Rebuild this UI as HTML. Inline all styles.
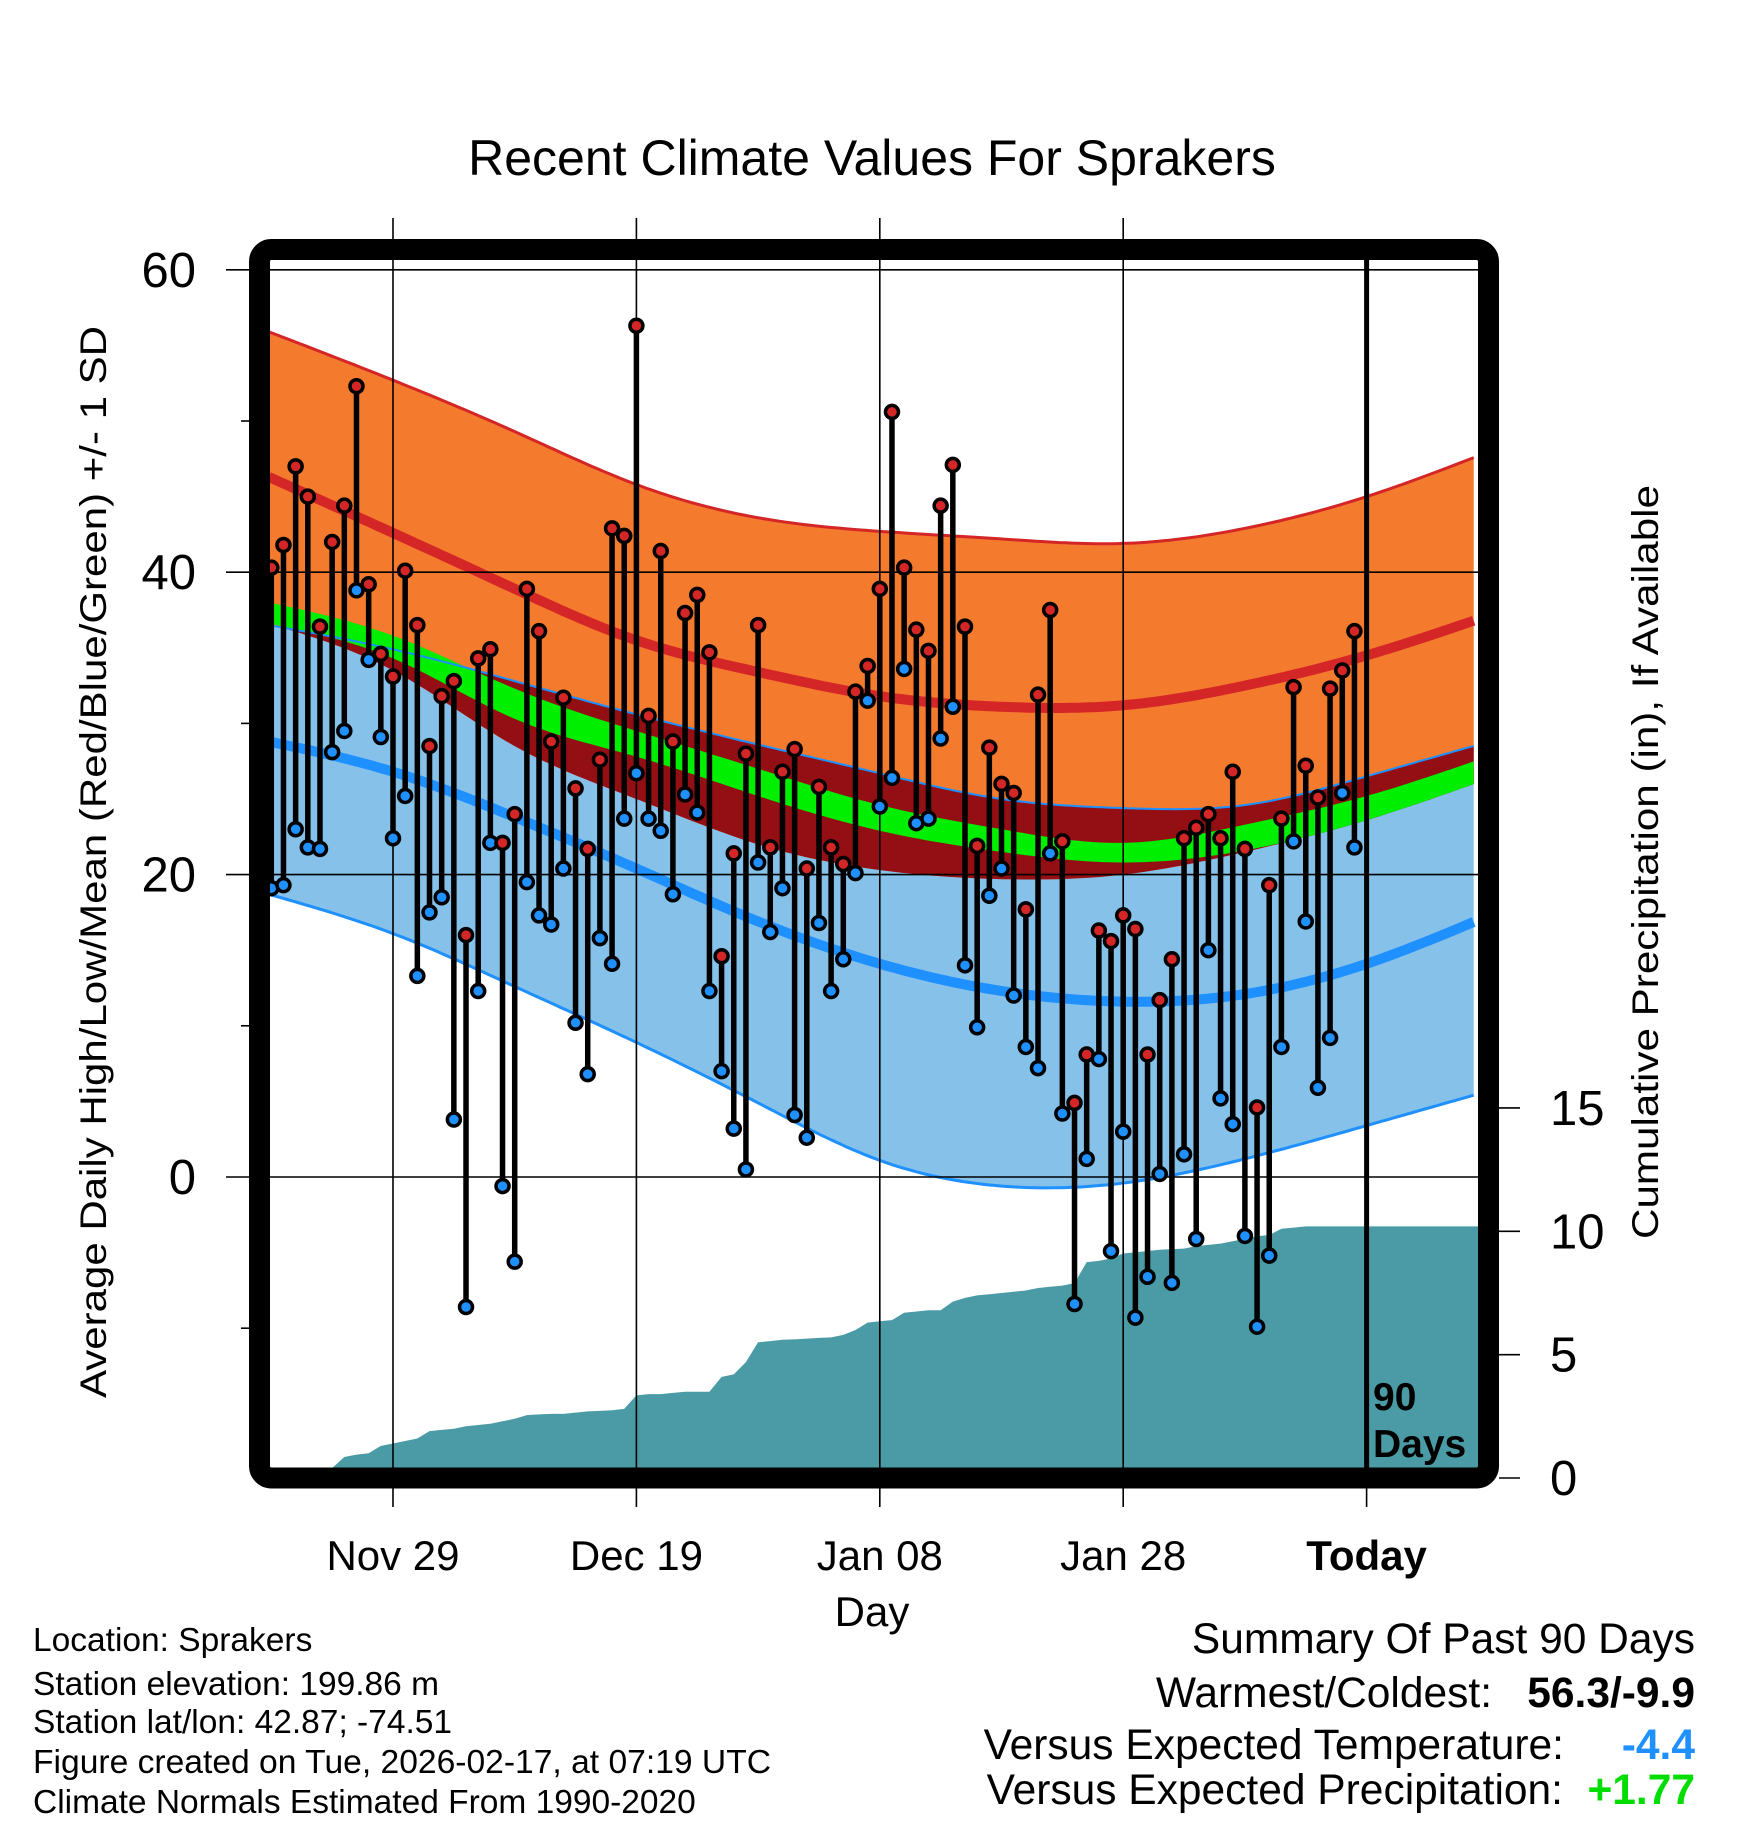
<!DOCTYPE html>
<html><head><meta charset="utf-8"><style>
html,body{margin:0;padding:0;background:#fff;}
svg{display:block;font-family:"Liberation Sans",sans-serif;}
</style></head><body>
<svg id="chart" width="1748" height="1828" viewBox="0 0 1748 1828" xmlns="http://www.w3.org/2000/svg">
<defs><clipPath id="plotclip"><rect x="270" y="260" width="1208" height="1208"/></clipPath></defs>
<text x="872" y="175" font-size="50" text-anchor="middle">Recent Climate Values For Sprakers</text>
<g id="bg" clip-path="url(#plotclip)"></g>
<g id="grid"></g>
<g id="marks" clip-path="url(#plotclip)"></g>
<rect x="259.5" y="249.5" width="1229" height="1228.5" rx="12" fill="none" stroke="#000" stroke-width="21"/>
<g id="axes"></g>
<text transform="translate(106,862) rotate(-90)" font-size="37" text-anchor="middle" textLength="1072" lengthAdjust="spacingAndGlyphs">Average Daily High/Low/Mean (Red/Blue/Green) +/- 1 SD</text>
<text transform="translate(1658,862) rotate(-90)" font-size="37" text-anchor="middle" textLength="754" lengthAdjust="spacingAndGlyphs">Cumulative Precipitation (in), If Available</text>
<text x="872" y="1626" font-size="42" text-anchor="middle">Day</text>
<text x="1373" y="1410" font-size="39" font-weight="bold">90</text>
<text x="1373" y="1457" font-size="39" font-weight="bold">Days</text>
<g font-size="33.5">
<text x="33" y="1651">Location: Sprakers</text>
<text x="33" y="1695">Station elevation: 199.86 m</text>
<text x="33" y="1733">Station lat/lon: 42.87; -74.51</text>
<text x="33" y="1773" textLength="738" lengthAdjust="spacingAndGlyphs">Figure created on Tue, 2026-02-17, at 07:19 UTC</text>
<text x="33" y="1813">Climate Normals Estimated From 1990-2020</text>
</g>
<g font-size="42.5" text-anchor="end">
<text x="1695" y="1653">Summary Of Past 90 Days</text>
<text x="1492" y="1707">Warmest/Coldest:</text>
<text x="1695" y="1707" font-weight="bold">56.3/-9.9</text>
<text x="1564" y="1759">Versus Expected Temperature:</text>
<text x="1695" y="1759" font-weight="bold" fill="#1e90ff">-4.4</text>
<text x="1563" y="1804">Versus Expected Precipitation:</text>
<text x="1695" y="1804" font-weight="bold" fill="#00dd00">+1.77</text>
</g>
</svg>
<script>
const highs=[40.3,41.8,47.0,45.0,36.4,42.0,44.4,52.3,39.2,34.6,33.1,40.1,36.5,28.5,31.8,32.8,16.0,34.3,34.9,22.1,24.0,38.9,36.1,28.8,31.7,25.7,21.7,27.6,42.9,42.4,56.3,30.5,41.4,28.8,37.3,38.5,34.7,14.6,21.4,28.0,36.5,21.8,26.8,28.3,20.4,25.8,21.8,20.7,32.1,33.8,38.9,50.6,40.3,36.2,34.8,44.4,47.1,36.4,21.9,28.4,26.0,25.4,17.7,31.9,37.5,22.2,4.9,8.1,16.3,15.6,17.3,16.4,8.1,11.7,14.4,22.4,23.1,24.0,22.4,26.8,21.7,4.6,19.3,23.7,32.4,27.2,25.1,32.3,33.5,36.1];
const lows=[19.1,19.3,23.0,21.8,21.7,28.1,29.5,38.8,34.2,29.1,22.4,25.2,13.3,17.5,18.5,3.8,-8.6,12.3,22.1,-0.6,-5.6,19.5,17.3,16.7,20.4,10.2,6.8,15.8,14.1,23.7,26.7,23.7,22.9,18.7,25.3,24.1,12.3,7.0,3.2,0.5,20.8,16.2,19.1,4.1,2.6,16.8,12.3,14.4,20.1,31.5,24.5,26.4,33.6,23.4,23.7,29.0,31.1,14.0,9.9,18.6,20.4,12.0,8.6,7.2,21.4,4.2,-8.4,1.2,7.8,-4.9,3.0,-9.3,-6.6,0.2,-7.0,1.5,-4.1,15.0,5.2,3.5,-3.9,-9.9,-5.2,8.6,22.2,16.9,5.9,9.2,25.4,21.8];
const precip=[0,0,0,0,0,0.4,0.85,0.95,1.0,1.3,1.4,1.5,1.6,1.9,1.95,2.0,2.1,2.15,2.2,2.3,2.4,2.55,2.58,2.6,2.6,2.65,2.7,2.72,2.75,2.8,3.35,3.4,3.4,3.45,3.5,3.5,3.5,4.1,4.2,4.7,5.5,5.55,5.6,5.62,5.65,5.68,5.7,5.8,6.0,6.3,6.35,6.4,6.7,6.75,6.8,6.8,7.15,7.3,7.4,7.45,7.5,7.55,7.6,7.7,7.75,7.8,7.9,8.75,8.8,8.9,9.1,9.15,9.2,9.25,9.28,9.3,9.4,9.45,9.5,9.6,9.7,9.8,9.85,10.1,10.15,10.2,10.2,10.2,10.2,10.2];
const normDays=[-10.2,0,10,20,30,40,50,60,70,80,89.2];
const normHighTop=[55.9,52.7,49.3,45.8,43.6,42.7,42.2,41.9,42.9,45.0,47.7];
const normHighMean=[46.3,42.6,38.9,35.5,33.4,31.8,31.1,31.2,32.5,34.5,36.9];
const normHighBot=[36.6,33.5,28.5,25.0,22.0,20.3,19.7,20.0,21.5,23.6,26.1];
const normLowTop=[36.5,34.9,32.8,30.6,28.6,26.7,25.0,24.4,24.6,26.5,28.6];
const normLowMean=[28.8,26.8,23.8,20.4,16.9,14.1,12.3,11.6,12.1,14.1,17.0];
const normLowBot=[18.7,16.1,12.6,8.9,4.9,1.1,-0.6,-0.4,1.2,3.4,5.5];
const normMeanTop=[38.0,35.8,32.3,29.5,27.0,24.6,23.0,22.1,23.3,25.2,27.6];
const normMeanBot=[36.6,34.3,30.3,27.8,25.2,22.9,21.5,20.8,21.6,23.6,26.1];
const xTickDays=[0,20,40,60,80];
const xTickLabels=["Nov 29","Dec 19","Jan 08","Jan 28","Today"];
const yTicks=[60,40,20,0];
const yMinorTicks=[50,30,10,-10];
const pTicks=[0,5,10,15];

const NS="http://www.w3.org/2000/svg";
const xDay=d=>393+d*12.17;
const xIdx=i=>xDay(i-10);
const yT=t=>1177-t*15.12;
const yP=p=>1478-p*24.67;
function mk(tag,attrs,parent){const e=document.createElementNS(NS,tag);for(const k in attrs)e.setAttribute(k,attrs[k]);parent.appendChild(e);return e;}
function spline(xs,ys){
  const n=xs.length,h=[],al=[],l=[1],mu=[0],z=[0],c=new Array(n).fill(0),b=[],dd=[];
  for(let i=0;i<n-1;i++)h.push(xs[i+1]-xs[i]);
  for(let i=1;i<n-1;i++)al[i]=3/h[i]*(ys[i+1]-ys[i])-3/h[i-1]*(ys[i]-ys[i-1]);
  for(let i=1;i<n-1;i++){l[i]=2*(xs[i+1]-xs[i-1])-h[i-1]*mu[i-1];mu[i]=h[i]/l[i];z[i]=(al[i]-h[i-1]*z[i-1])/l[i];}
  for(let j=n-2;j>=0;j--){c[j]=(j>0?z[j]:0)-mu[j]*c[j+1];b[j]=(ys[j+1]-ys[j])/h[j]-h[j]*(c[j+1]+2*c[j])/3;dd[j]=(c[j+1]-c[j])/(3*h[j]);}
  return x=>{let k=0;while(k<n-2&&x>xs[k+1])k++;const t=x-xs[k];return ys[k]+b[k]*t+c[k]*t*t+dd[k]*t*t*t;};
}
const ds=[];for(let d=-10.2;d<=89.25;d+=0.5)ds.push(d);
function linePts(arr){const f=spline(normDays,arr);return ds.map(d=>xDay(d).toFixed(1)+","+yT(f(d)).toFixed(1));}
function bandPath(top,bot){const a=linePts(top),b=linePts(bot).reverse();return "M"+a.join("L")+"L"+b.join("L")+"Z";}
const bg=document.getElementById('bg');
const lb=mk('path',{d:bandPath(normLowTop,normLowBot),fill:'#85c1e9'},bg);


const ob=mk('path',{d:bandPath(normHighTop,normHighBot),fill:'#f47a2e'},bg);


const ovl=mk('path',{d:bandPath(normLowTop,normHighBot),fill:'#930f14'},bg);


const gb=mk('path',{d:bandPath(normMeanTop,normMeanBot),fill:'#00ee00'},bg);


function curve(arr,color,w,name){const p=mk('polyline',{points:linePts(arr).join(' '),fill:'none',stroke:color,'stroke-width':w},bg);

}
curve(normLowMean,'#1e90ff',10,'low-mean-line');
curve(normHighMean,'#d42626',10,'high-mean-line');
curve(normLowTop,'#1e90ff',2,'low-plus-sd-line');
curve(normHighTop,'#d42626',3,'high-plus-sd-line');
curve(normLowBot,'#1e90ff',3,'low-minus-sd-line');
let pd="M"+xIdx(0)+","+yP(0);
precip.forEach((v,i)=>{pd+="L"+xIdx(i).toFixed(1)+","+yP(v).toFixed(1);});
pd+="L1480,"+yP(precip[precip.length-1]).toFixed(1)+"L1480,1470L270,1470Z";
const pa=mk('path',{d:pd,fill:'#4a9ba5'},bg);


const grid=document.getElementById('grid');
yTicks.forEach(t=>{const l=mk('line',{x1:226,x2:1478,y1:yT(t),y2:yT(t),stroke:'#000','stroke-width':1.6},grid);

});
yMinorTicks.forEach(t=>{const l=mk('line',{x1:241,x2:252,y1:yT(t),y2:yT(t),stroke:'#000','stroke-width':1.6},grid);

});
xTickDays.forEach((d,i)=>{const l=mk('line',{x1:xDay(d),x2:xDay(d),y1:(i===4?1478:218),y2:1507,stroke:'#000','stroke-width':1.6},grid);

});
const marks=document.getElementById('marks');
highs.forEach((h,i)=>{
  const x=xIdx(i);
  const s=mk('line',{x1:x,x2:x,y1:yT(h),y2:yT(lows[i]),stroke:'#000','stroke-width':5.5},marks);
  
  
});
highs.forEach((h,i)=>{
  const x=xIdx(i);
  const c1=mk('circle',{cx:x,cy:yT(lows[i]),r:6.5,fill:'#1e90ff',stroke:'#000','stroke-width':3.5},marks);
  
  
  const c2=mk('circle',{cx:x,cy:yT(h),r:6.5,fill:'#d42626',stroke:'#000','stroke-width':3.5},marks);
  
  
});
const axes=document.getElementById('axes');
const today=mk('line',{x1:xDay(80),x2:xDay(80),y1:255,y2:1470,stroke:'#000','stroke-width':5},axes);


yTicks.forEach(t=>{const e=mk('text',{x:196,y:yT(t)+17,'font-size':49,'text-anchor':'end'},axes);e.textContent=t;

});
xTickDays.forEach((d,i)=>{const e=mk('text',{x:xDay(d),y:1570,'font-size':42,'text-anchor':'middle'},axes);e.textContent=xTickLabels[i];
if(i===4)e.setAttribute('font-weight','bold');

});
pTicks.forEach(p=>{const l=mk('line',{x1:1499,x2:1520,y1:yP(p),y2:yP(p),stroke:'#000','stroke-width':1.6},axes);


const e=mk('text',{x:1550,y:yP(p)+17,'font-size':49},axes);e.textContent=p;

});
</script>
</body></html>
